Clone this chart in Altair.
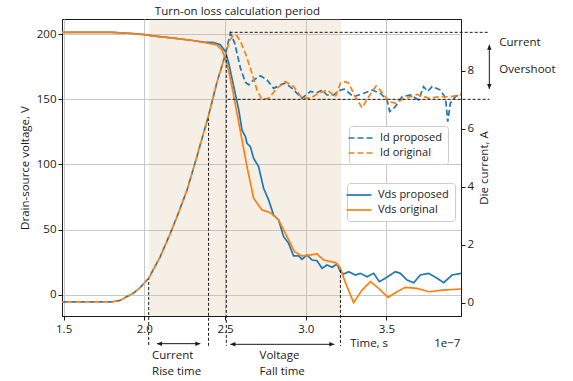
import altair as alt
import pandas as pd

# time in units of 1e-7 s
vds_prop_t = [1.49, 1.80, 1.90, 1.975, 2.08, 2.182, 2.30, 2.368, 2.43, 2.471, 2.502, 2.523, 2.554, 2.585,
              2.605, 2.626, 2.636, 2.657, 2.677, 2.708, 2.739, 2.770, 2.801, 2.832, 2.863, 2.894, 2.925,
              2.956, 2.977, 3.008, 3.039, 3.070, 3.101, 3.132, 3.163, 3.194, 3.215, 3.235, 3.266, 3.307,
              3.338, 3.380, 3.421, 3.456, 3.493, 3.524, 3.555, 3.586, 3.628, 3.669, 3.710, 3.762, 3.814,
              3.855, 3.907, 3.962]
vds_prop_v = [201.2, 201.2, 200.6, 199.9, 198.2, 196.8, 195.0, 193.8, 193.5, 191.7, 186.6, 177.7, 159.7, 141.9,
              126.5, 121.4, 116.3, 113.7, 104.8, 98.4, 81.8, 72.9, 61.3, 57.5, 44.7, 39.6, 29.9,
              29.9, 27.4, 30.7, 26.8, 26.3, 20.5, 23.0, 21.2, 23.8, 17.9, 16.1, 17.9, 15.3,
              16.6, 14.0, 16.6, 10.2, 12.8, 15.3, 17.9, 16.6, 11.5, 9.4, 15.3, 16.6, 12.8,
              9.4, 15.3, 16.6]

vds_orig_t = [1.49, 1.80, 1.90, 1.975, 2.08, 2.182, 2.30, 2.368, 2.45, 2.481, 2.512, 2.543, 2.574, 2.605,
              2.636, 2.677, 2.729, 2.781, 2.832, 2.884, 2.930, 2.977, 3.020, 3.070, 3.111, 3.184, 3.211,
              3.246, 3.297, 3.349, 3.401, 3.452, 3.510, 3.566, 3.617, 3.690, 3.762, 3.845, 3.962]
vds_orig_v = [201.2, 201.2, 200.6, 199.9, 198.2, 196.8, 195.0, 193.5, 191.7, 187.9, 177.7, 159.7, 139.3, 118.9,
              98.4, 74.2, 65.2, 63.1, 57.5, 44.7, 33.2, 29.9, 30.5, 31.4, 26.8, 24.8, 21.5,
              9.5, -5.9, 3.8, 10.2, 5.1, -1.8, 2.5, 5.9, 5.1, 2.5, 3.8, 4.6]

id_rise_t = [1.49, 1.80, 1.85, 1.893, 1.94, 1.975, 2.027, 2.099, 2.161, 2.203, 2.265, 2.316, 2.398, 2.450, 2.502]
id_rise_a = [0.03, 0.03, 0.08, 0.21, 0.36, 0.53, 0.84, 1.59, 2.39, 2.97, 3.89, 4.85, 6.45, 7.60, 8.55]

id_prop_tail_t = [2.533, 2.56, 2.595, 2.626, 2.647, 2.677, 2.719, 2.760, 2.801, 2.843, 2.874, 2.915, 2.977,
                  3.029, 3.070, 3.101, 3.132, 3.173, 3.215, 3.24, 3.297, 3.359, 3.411, 3.462, 3.504, 3.520,
                  3.555, 3.597, 3.648, 3.700, 3.730, 3.755, 3.783, 3.835, 3.866, 3.880, 3.896, 3.927, 3.962]
id_prop_tail_a = [9.29, 8.95, 8.10, 7.60, 7.51, 7.68, 7.82, 7.68, 7.39, 7.51, 7.57, 7.39, 7.05,
                  7.28, 7.24, 7.33, 7.16, 7.16, 7.33, 7.36, 7.10, 7.22, 7.33, 7.22, 6.99, 6.59,
                  6.76, 7.10, 7.16, 6.99, 7.45, 7.28, 7.45, 7.33, 7.05, 6.24, 6.88, 7.10, 7.22]

id_orig_tail_t = [2.530, 2.553, 2.574, 2.600, 2.626, 2.667, 2.698, 2.729, 2.771, 2.822, 2.874, 2.925, 2.977,
                  3.029, 3.080, 3.132, 3.184, 3.215, 3.245, 3.266, 3.307, 3.349, 3.390, 3.436, 3.478, 3.514,
                  3.555, 3.607, 3.690, 3.762, 3.835, 3.896, 3.962]
id_orig_tail_a = [9.05, 9.23, 9.20, 8.95, 8.60, 7.91, 7.33, 7.01, 7.05, 7.39, 7.62, 7.45, 7.05,
                  7.05, 7.22, 7.33, 7.10, 7.57, 7.62, 7.57, 7.10, 6.72, 7.10, 7.47, 7.22, 6.93,
                  6.88, 7.03, 7.18, 7.05, 7.10, 7.10, 7.16]

series_vds = ["Vds proposed", "Vds original"]
series_id = ["Id proposed", "Id original"]
colors = ["#1f77b4", "#ff7f0e"]

# annotation values
shade_t = [2.031, 3.22]
vline_t = [2.027, 2.398, 2.508, 3.215]
vline_top = [13.8, 139.6, 184.0, 19.2]
vline_bottom = -39.0
hline_a = [9.32, 7.01]
hline_t1 = [2.529, 2.516]
hline_t2 = [4.138, 4.138]
harrow_t1 = [2.078, 2.533]
harrow_t2 = [2.347, 3.177]
harrow_v = [-37.3, -37.8]
vlab_text = ["Current", "Rise time", "Voltage", "Fall time", "Time, s"]
vlab_t = [2.048, 2.048, 2.714, 2.714, 3.276]
vlab_v = [-49.1, -61.6, -49.1, -61.6, -39.9]
over_t = 4.1376
over_a = [7.37, 8.89]
olab_text = ["Current", "Overshoot"]
olab_t = [4.199, 4.199]
olab_a = [8.85, 7.93]

X_DOM = [1.49, 3.962]
VL_DOM = [-16.1, 211.5]
IA_DOM = [-0.46, 9.78]
FONT = "Open Sans"
FS = 11.5
INK = "#1a1a1a"

xs = alt.Scale(domain=X_DOM, nice=False, zero=False)
yl = alt.Scale(domain=VL_DOM, nice=False, zero=False)
yr = alt.Scale(domain=IA_DOM, nice=False, zero=False)

x_axis = alt.Axis(values=[1.5, 2.0, 2.5, 3.0, 3.5], format=".1f", grid=True, labelPadding=3, title=None)
yl_axis = alt.Axis(values=[0, 50, 100, 150, 200], grid=True, title="Drain-source voltage, V", titlePadding=6)
yr_axis = alt.Axis(orient="right", values=[0, 2, 4, 6, 8], grid=False, title="Die current, A",
                   titleAngle=270, titleBaseline="top", titlePadding=5)


def X(field="t"):
    return alt.X(f"{field}:Q", scale=xs, axis=x_axis)


def YL(field="v"):
    return alt.Y(f"{field}:Q", scale=yl, axis=yl_axis)


def YR(field="a"):
    return alt.Y(f"{field}:Q", scale=yr, axis=yr_axis)


STROKE = "M-2.5,0L2.5,0"
common_leg = dict(orient="none", title=None, symbolType=STROKE, symbolSize=100, symbolStrokeWidth=1.7,
                  fillColor="white", strokeColor="#cccccc", cornerRadius=3, padding=6, rowPadding=4,
                  labelOffset=13, labelFontSize=11, labelFont=FONT, labelColor=INK)
vds_col = alt.Color("series:N", scale=alt.Scale(domain=series_vds, range=colors),
                    legend=alt.Legend(legendX=285, legendY=164, **common_leg))
id_col = alt.Color("series:N", scale=alt.Scale(domain=series_id, range=colors),
                   legend=alt.Legend(legendX=287, legendY=107, symbolDash=[6, 3], **common_leg))

# ---------- left (voltage) group ----------
shade = alt.Chart(pd.DataFrame({"t": [shade_t[0]], "t2": [shade_t[1]], "v": [VL_DOM[1]], "v2": [VL_DOM[0]]})
                  ).mark_rect(color="#D2B48C", opacity=0.22).encode(
    x=X(), x2="t2", y=YL(), y2="v2")

df_vp = pd.DataFrame({"t": vds_prop_t, "v": vds_prop_v, "series": series_vds[0]})
df_vo = pd.DataFrame({"t": vds_orig_t, "v": vds_orig_v, "series": series_vds[1]})
vds_p = alt.Chart(df_vp).mark_line(strokeWidth=1.7).encode(x=X(), y=YL(), color=vds_col)
vds_o = alt.Chart(df_vo).mark_line(strokeWidth=1.7).encode(x=X(), y=YL(), color=vds_col)

vr = alt.Chart(pd.DataFrame({"t": vline_t, "v": vline_top, "v2": [vline_bottom] * len(vline_t)})
               ).mark_rule(color=INK, strokeWidth=1, strokeDash=[3, 2]).encode(x=X(), y=YL(), y2="v2")

df_ha = pd.DataFrame({"t": harrow_t1, "t2": harrow_t2, "v": harrow_v})
ha = alt.Chart(df_ha).mark_rule(color=INK, strokeWidth=1).encode(x=X(), x2="t2", y=YL())
ha_l = alt.Chart(df_ha).mark_point(shape="M1,-0.45L0,0L1,0.45Z", filled=True, size=100, opacity=1,
                                   color=INK, strokeWidth=0).encode(x=X(), y=YL())
ha_r = alt.Chart(df_ha).mark_point(shape="M-1,-0.45L0,0L-1,0.45Z", filled=True, size=100, opacity=1,
                                   color=INK, strokeWidth=0).encode(x=X("t2"), y=YL())

vlab = alt.Chart(pd.DataFrame({"t": vlab_t, "v": vlab_v, "label": vlab_text})).mark_text(
    align="left", baseline="alphabetic", fontSize=FS, font=FONT, color=INK).encode(x=X(), y=YL(), text="label:N")
exp_lab = alt.Chart(pd.DataFrame({"t": [3.958], "v": [-39.9], "label": ["1e\u22127"]})).mark_text(
    align="right", baseline="alphabetic", fontSize=FS, font=FONT, color=INK).encode(x=X(), y=YL(), text="label:N")
title_lab = alt.Chart(pd.DataFrame({"t": [2.577], "v": [214.7], "label": ["Turn-on loss calculation period"]})).mark_text(
    align="center", baseline="alphabetic", fontSize=FS, font=FONT, color=INK).encode(x=X(), y=YL(), text="label:N")

left = alt.layer(shade, vds_p, vds_o, vr, ha, ha_l, ha_r, vlab, exp_lab, title_lab)

# ---------- right (current) group ----------
df_ip = pd.DataFrame({"t": id_rise_t + id_prop_tail_t, "a": id_rise_a + id_prop_tail_a, "series": series_id[0]})
df_io = pd.DataFrame({"t": id_rise_t + id_orig_tail_t, "a": id_rise_a + id_orig_tail_a, "series": series_id[1]})
id_p = alt.Chart(df_ip).mark_line(strokeWidth=1.7, strokeDash=[6, 3]).encode(
    x=X(), y=YR(), color=id_col)
id_o = alt.Chart(df_io).mark_line(strokeWidth=1.7, strokeDash=[6, 3], strokeDashOffset=4.5).encode(
    x=X(), y=YR(), color=id_col)

hr = alt.Chart(pd.DataFrame({"t": hline_t1, "t2": hline_t2, "a": hline_a})).mark_rule(
    color=INK, strokeWidth=1, strokeDash=[3, 2]).encode(x=X(), x2="t2", y=YR())

df_va = pd.DataFrame({"t": [over_t], "a": [over_a[0]], "a2": [over_a[1]]})
va = alt.Chart(df_va).mark_rule(color=INK, strokeWidth=1).encode(x=X(), y=YR(), y2="a2")
va_d = alt.Chart(df_va).mark_point(shape="M-0.45,-1L0,0L0.45,-1Z", filled=True, size=100, opacity=1,
                                   color=INK, strokeWidth=0).encode(x=X(), y=YR())
va_u = alt.Chart(df_va).mark_point(shape="M-0.45,1L0,0L0.45,1Z", filled=True, size=100, opacity=1,
                                   color=INK, strokeWidth=0).encode(x=X(), y=YR("a2"))
olab = alt.Chart(pd.DataFrame({"t": olab_t, "a": olab_a, "label": olab_text})).mark_text(
    align="left", baseline="alphabetic", fontSize=FS, font=FONT, color=INK).encode(x=X(), y=YR(), text="label:N")

right = alt.layer(id_p, id_o, hr, va, va_d, va_u, olab)

chart = alt.layer(left, right).resolve_scale(y="independent", color="independent").resolve_legend(
    color="independent").properties(
    width=399, height=297,
    autosize=alt.AutoSizeParams(type="none"),
    padding={"left": 62, "top": 19, "right": 112, "bottom": 65},
).configure(font=FONT).configure_axis(
    labelFont=FONT, labelFontSize=FS, labelColor=INK, titleFont=FONT, titleFontSize=FS,
    titleFontWeight="normal", titleColor=INK, tickColor=INK, domainColor=INK,
    gridColor="#c8c8c8", gridWidth=1, tickSize=4,
).configure_view(stroke=INK, strokeWidth=1)

chart.save("out.html", embed_options={"renderer": "svg", "actions": False})
